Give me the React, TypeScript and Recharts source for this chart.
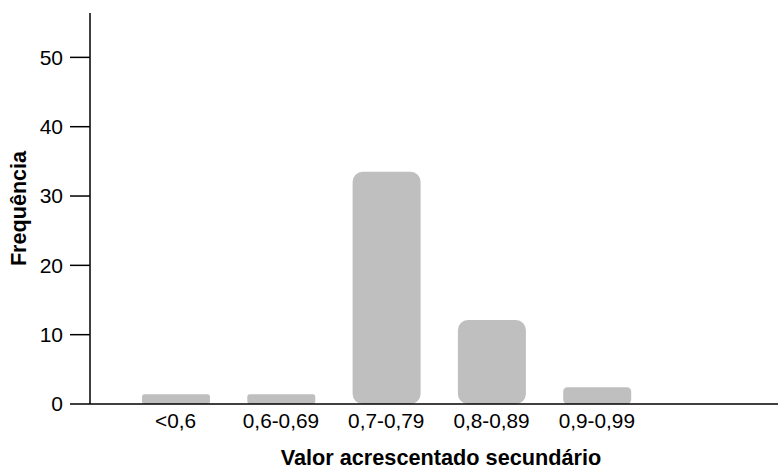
import React from "react";
import { BarChart, Bar, XAxis, YAxis, Rectangle } from "recharts";

// faixas do valor acrescentado secundário
const categories = ["<0,6", "0,6-0,69", "0,7-0,79", "0,8-0,89", "0,9-0,99"];
const frequencies = [1.4, 1.4, 33.5, 12.1, 2.4];
const yTicks = [0, 10, 20, 30, 40, 50];

const data = categories.map((name, i) => ({ name, value: frequencies[i] }));

const font = "'Liberation Sans', Arial, sans-serif";

// cantos arredondados, menores nas barras baixas
const RoundBar = (props: any) => {
  const { x, y, width, height, fill } = props;
  const r = Math.min(10, height * 0.25);
  return <Rectangle x={x} y={y} width={width} height={height} fill={fill} radius={r} />;
};

export default function App() {
  return (
    <div style={{ position: "absolute", left: 0, top: 0, background: "#fff" }}>
      <BarChart
        width={778}
        height={470}
        data={data}
        margin={{ top: 13, right: 0, bottom: 0, left: 0 }}
        barSize={68}
      >
        <XAxis
          dataKey="name"
          height={66}
          padding={{ left: 33, right: 128.5 }}
          tickLine={false}
          tickSize={8}
          tickMargin={1}
          axisLine={{ stroke: "#000", strokeWidth: 1.5 }}
          tick={{ fill: "#000", fontSize: 20.8, fontFamily: font }}
          interval={0}
          label={{
            value: "Valor acrescentado secundário",
            position: "center",
            dx: 7,
            dy: 20,
            fill: "#000",
            fontSize: 21.7,
            fontWeight: "bold",
            fontFamily: font,
          }}
        />
        <YAxis
          width={90}
          domain={[0, 56.4]}
          ticks={yTicks}
          tickSize={20}
          tickMargin={7}
          axisLine={{ stroke: "#000", strokeWidth: 1.5 }}
          tickLine={{ stroke: "#000", strokeWidth: 1.5 }}
          tick={{ fill: "#000", fontSize: 21, fontFamily: font }}
          label={{
            value: "Frequência",
            angle: -90,
            position: "center",
            dx: -27,
            fill: "#000",
            fontSize: 21.6,
            fontWeight: "bold",
            fontFamily: font,
          }}
        />
        <Bar dataKey="value" fill="#bfbfbf" shape={RoundBar} isAnimationActive={false} />
      </BarChart>
    </div>
  );
}
